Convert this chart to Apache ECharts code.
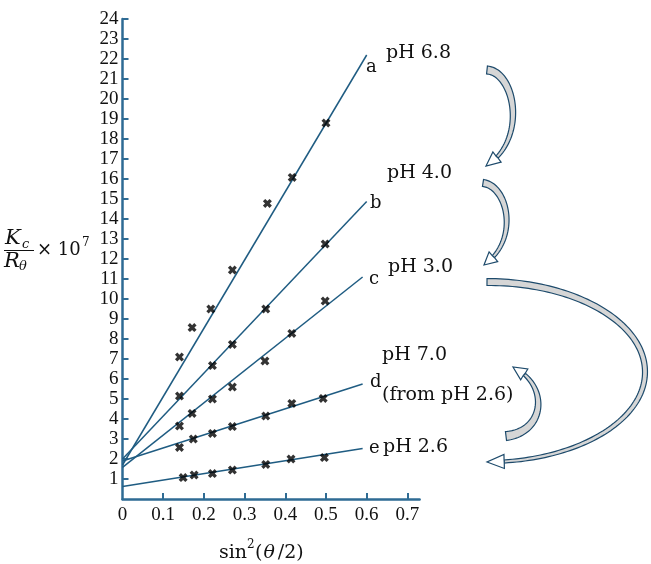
<!DOCTYPE html>
<html><head><meta charset="utf-8">
<script src="https://cdn.jsdelivr.net/npm/echarts@6/dist/echarts.min.js"></script>
<style>html,body{margin:0;padding:0;background:#fff}#c{width:651px;height:564px}</style>
</head><body><div id="c"></div>
<script>
// ---- data ----
const xTickLabels = [0, 0.1, 0.2, 0.3, 0.4, 0.5, 0.6, 0.7];
const yTickLabels = [1,2,3,4,5,6,7,8,9,10,11,12,13,14,15,16,17,18,19,20,21,22,23,24];
const lineNames = ['a', 'b', 'c', 'd', 'e'];
const phLabels = ['pH 6.8', 'pH 4.0', 'pH 3.0', 'pH 7.0', '(from pH 2.6)', 'pH 2.6'];

const xA = [0.140, 0.171, 0.217, 0.270, 0.356, 0.417, 0.500];
const yA = [7.10, 8.57, 9.50, 11.45, 14.78, 16.08, 18.80];
const xB = [0.140, 0.221, 0.270, 0.352, 0.498];
const yB = [5.15, 6.67, 7.73, 9.50, 12.75];
const xC = [0.140, 0.171, 0.221, 0.270, 0.350, 0.416, 0.498];
const yC = [3.65, 4.28, 5.00, 5.60, 6.90, 8.28, 9.90];
const xD = [0.140, 0.174, 0.221, 0.270, 0.352, 0.416, 0.493];
const yD = [2.58, 3.00, 3.28, 3.62, 4.15, 4.78, 5.03];
const xE = [0.149, 0.176, 0.221, 0.270, 0.352, 0.414, 0.496];
const yE = [1.07, 1.20, 1.27, 1.45, 1.73, 2.00, 2.07];

// fitted lines: start x, start y, end x, end y
const fitX0 = [0, 0, 0, 0, 0];
const fitY0 = [1.70, 2.00, 1.58, 1.90, 0.62];
const fitX1 = [0.60, 0.60, 0.59, 0.59, 0.59];
const fitY1 = [22.20, 14.87, 11.10, 5.75, 2.53];

// ---- styles ----
const lineColor = '#1f5c82';
const axisColor = '#2e6b94';
const textColor = '#111111';
const serif = '"Liberation Serif", "Times New Roman", serif';
const serif2 = '"DejaVu Serif", serif';
const crossPath = 'path://M0,2.6 L2.6,0 L5,2.4 L7.4,0 L10,2.6 L7.6,5 L10,7.4 L7.4,10 L5,7.6 L2.6,10 L0,7.4 L2.4,5 Z';

const pts = [[xA,yA],[xB,yB],[xC,yC],[xD,yD],[xE,yE]];
const series = [];
lineNames.forEach((n, i) => {
  series.push({
    type: 'line', name: n, data: [[fitX0[i], fitY0[i]], [fitX1[i], fitY1[i]]],
    symbol: 'none', lineStyle: {color: lineColor, width: 1.5}, silent: true, z: 3
  });
  series.push({
    type: 'scatter', name: n + ' pts',
    data: pts[i][0].map((x, k) => [x, pts[i][1][k]]),
    symbol: crossPath, symbolSize: 9, itemStyle: {color: '#000'}, z: 4
  });
});

// ---- decorative curved arrows ----
function cub(p, t) {
  const u = 1 - t;
  return [u*u*u*p[0][0] + 3*u*u*t*p[1][0] + 3*u*t*t*p[2][0] + t*t*t*p[3][0],
          u*u*u*p[0][1] + 3*u*u*t*p[1][1] + 3*u*t*t*p[2][1] + t*t*t*p[3][1]];
}
function arrowShapes(segs, w0, w1, headLen, headW) {
  const c = [];
  segs.forEach((s, si) => {
    for (let k = (si === 0 ? 0 : 1); k <= 60; k++) c.push(cub(s, k / 60));
  });
  const cum = [0];
  for (let i = 1; i < c.length; i++) cum.push(cum[i-1] + Math.hypot(c[i][0]-c[i-1][0], c[i][1]-c[i-1][1]));
  const L = cum[cum.length-1], Lb = L - headLen;
  const left = [], right = [];
  let lastIdx = 0;
  for (let i = 0; i < c.length && cum[i] <= Lb; i++) {
    const a = c[Math.max(0, i-1)], b = c[Math.min(c.length-1, i+1)];
    const dx = b[0]-a[0], dy = b[1]-a[1], d = Math.hypot(dx, dy) || 1;
    const nx = -dy/d, ny = dx/d;
    const w = (w0 + (w1 - w0) * cum[i] / Lb) / 2;
    left.push([c[i][0] + nx*w, c[i][1] + ny*w]);
    right.push([c[i][0] - nx*w, c[i][1] - ny*w]);
    lastIdx = i;
  }
  const base = c[lastIdx];
  const tip = c[c.length-1];
  const dx = tip[0]-base[0], dy = tip[1]-base[1], d = Math.hypot(dx, dy) || 1;
  const nx = -dy/d, ny = dx/d;
  const body = left.concat(right.slice().reverse());
  const head = [left[left.length-1], [base[0]+nx*headW/2, base[1]+ny*headW/2], tip,
                [base[0]-nx*headW/2, base[1]-ny*headW/2], right[right.length-1]];
  return [
    {type: 'polygon', shape: {points: body}, style: {fill: '#d6d6d6', stroke: '#1d4a6b', lineWidth: 1.2}, z: 10, silent: true},
    {type: 'polygon', shape: {points: head}, style: {fill: '#ffffff', stroke: '#1d4a6b', lineWidth: 1.2}, z: 11, silent: true}
  ];
}
const arrows = [].concat(
  arrowShapes([[[487,70],[515,72],[528,140],[486,166]]], 8, 3, 12, 13),
  arrowShapes([[[483,183],[508,186],[520,240],[484,265]]], 7, 3, 12, 13),
  arrowShapes([[[487,282],[574,282],[645,322],[645,372]], [[645,372],[645,422],[574,462],[487,462]]], 7, 3, 13, 14),
  arrowShapes([[[506,436],[545,432],[550,385],[513,367]]], 9, 3, 12, 13)
);

function txt(x, y, text, font, extra) {
  return Object.assign({
    type: 'text', x: x, y: y, z: 12, silent: true,
    style: Object.assign({text: text, font: font, fill: textColor, textAlign: 'left',
      textVerticalAlign: 'middle', verticalAlign: 'middle'}, extra || {})
  });
}
const lblFont = '18px ' + serif2;
const phFont = '19px ' + serif2;
const lblPos = [[366,67],[370,203],[369,279],[370,382],[369,448]];
const phPos = [[386,53],[387,173],[388,267],[382,355],[382,395],[383,447]];
const texts = [];
lineNames.forEach((n, i) => texts.push(txt(lblPos[i][0], lblPos[i][1], n, lblFont)));
phLabels.forEach((p, i) => texts.push(txt(phPos[i][0], phPos[i][1], p, phFont)));

// axis titles
texts.push(txt(219, 553, 'sin', '19px ' + serif2));
texts.push(txt(247, 545, '2', '12px ' + serif2));
texts.push({type: 'text', x: 255, y: 553, z: 12, silent: true,
  style: {text: '{a|(}{b|θ}{a|/2)}', fill: textColor, textAlign: 'left', textVerticalAlign: 'middle', verticalAlign: 'middle',
    rich: {a: {font: '19px ' + serif2, fill: textColor}, b: {font: 'italic 19px ' + serif2, fill: textColor, padding: [0, 3, 0, 1]}}}});
texts.push(txt(5, 239, 'K', 'italic 21px ' + serif2));
texts.push(txt(22, 245, 'c', 'italic 13px ' + serif2));
texts.push(txt(4, 262, 'R', 'italic 21px ' + serif2));
texts.push(txt(19, 267, 'θ', 'italic 13px ' + serif2));
texts.push(txt(37, 250, '× 10', '18px ' + serif2));
texts.push(txt(82, 243, '7', '12px ' + serif2));
texts.push({type: 'line', shape: {x1: 4, y1: 250.5, x2: 34, y2: 250.5}, style: {stroke: textColor, lineWidth: 1}, z: 12, silent: true});

const chart = echarts.init(document.getElementById('c'), null, {renderer: 'canvas'});
chart.setOption({
  backgroundColor: '#fff',
  animation: false,
  grid: {left: 122.5, right: 231.4, top: 19, bottom: 65, containLabel: false},
  xAxis: {
    type: 'value', min: 0, max: 0.73, interval: 0.1,
    axisLine: {show: true, onZero: false, lineStyle: {color: axisColor, width: 2.5}},
    axisTick: {show: true, inside: true, length: 6, customValues: xTickLabels.slice(1), lineStyle: {color: axisColor, width: 2}},
    axisLabel: {customValues: xTickLabels, margin: 7, fontFamily: serif, fontSize: 19, color: textColor,
      formatter: v => (v === 0 ? '0' : v.toFixed(1))},
    splitLine: {show: false}
  },
  yAxis: {
    type: 'value', min: 0, max: 24, interval: 1,
    axisLine: {show: true, onZero: false, lineStyle: {color: axisColor, width: 2.5}},
    axisTick: {show: true, inside: true, length: 6, customValues: yTickLabels, lineStyle: {color: axisColor, width: 2}},
    axisLabel: {customValues: yTickLabels, margin: 4, fontFamily: serif, fontSize: 19, color: textColor,
      formatter: v => (v === 0 ? '' : String(v))},
    splitLine: {show: false}
  },
  series: series,
  graphic: arrows.concat(texts)
});
</script></body></html>
